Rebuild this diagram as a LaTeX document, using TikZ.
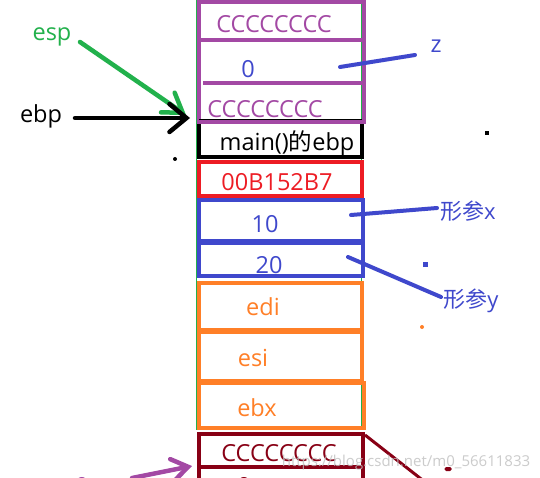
\documentclass[tikz,border=0pt]{standalone}
\usepackage{fontspec}
\setmainfont{Open Sans}
\newfontfamily\cjk{Noto Sans CJK SC}
\usetikzlibrary{arrows.meta}
\definecolor{ppurple}{RGB}{163,73,164}
\definecolor{pblue}{RGB}{63,72,204}
\definecolor{pred}{RGB}{237,28,36}
\definecolor{porange}{RGB}{255,127,39}
\definecolor{pdark}{RGB}{136,0,21}
\definecolor{pgreen}{RGB}{34,177,76}
\begin{document}
\begin{tikzpicture}[x=1pt,y=-1pt,
  cell/.style={line width=4pt},
  lbl/.style={inner sep=0pt, anchor=base, font=\fontsize{23.5}{26}\selectfont},
  cjklbl/.style={inner sep=0pt, anchor=base, font=\fontsize{22}{25}\selectfont},
  pen/.style={line width=4.5pt, line cap=round},
  dotmark/.style={inner sep=0pt, minimum size=4pt, fill}]
\useasboundingbox (0,0) rectangle (540,478);
\clip (0,0) rectangle (540,478);
\fill[white] (0,0) rectangle (540,478);
% green guide lines
\draw[pgreen, line width=1.2pt] (196.5,0) -- (196.5,430);
\draw[pgreen, line width=1.2pt] (361.5,0) -- (361.5,430);
% purple block
\draw[ppurple, cell] (199,2) rectangle (364,122);
\draw[ppurple, cell] (199,40) -- (364,40);
\draw[ppurple, cell] (203,83) -- (364,83);
\draw[ppurple, line width=2pt] (199,1) -- (283,1);
% black box
\draw[black, line width=1pt] (199,120) -- (362,120);
\draw[black, cell] (199,124) -- (199,157) -- (362,157) -- (362,124);
% red box
\draw[pred, cell] (199,162) rectangle (362,196);
% blue boxes
\draw[pblue, cell] (199,200) rectangle (363,241);
\draw[pblue, cell] (199,243) rectangle (363,276);
% orange boxes
\draw[porange, cell] (199,283) rectangle (362,330);
\draw[porange, cell] (199,332) rectangle (362,381);
\draw[porange, cell] (199,383) rectangle (364,428);
% dark red box
\draw[pdark, cell] (199,434) rectangle (363,500);
\draw[pdark, cell] (199,467) -- (363,467);

% cell texts
\node[lbl, text=ppurple] (c1) at (274,33) {CCCCCCCC};
\node[lbl, text=pblue] (zero) at (248,78) {0};
\node[lbl, text=ppurple] (c3) at (265,118) {CCCCCCCC};
\node[lbl, text=black] (mebp) at (287,151) {main(){\cjk 的}ebp};
\node[lbl, text=pred] (ret) at (277,191) {00B152B7};
\node[lbl, text=pblue] (ten) at (265,233) {10};
\node[lbl, text=pblue] (twenty) at (269,273) {20};
\node[lbl, text=porange] (edi) at (263,315) {edi};
\node[lbl, text=porange] (esi) at (253,366) {esi};
\node[lbl, text=porange] (ebx) at (257,416) {ebx};
\node[lbl, text=pdark] (c4) at (279,461) {CCCCCCCC};
\node[lbl, text=pdark] (c5) at (244,494) {0};

% left labels and arrows
\node[lbl, text=pgreen] (esp) at (52,41) {esp};
\node[lbl, text=black] (ebp) at (41,123) {ebp};
\node[lbl, text=ppurple] (amp) at (90,494) {\&a};
\coordinate (esptip) at (186,115);
\coordinate (espstart) at (80,42);
\coordinate (ebptip) at (190,118);
\coordinate (ebpstart) at (75,118);
\coordinate (amptip) at (192,466);
\coordinate (ampstart) at (132,478);
\draw[pgreen, pen, -{Straight Barb[length=18pt,width=24pt,line cap=round]}] (espstart) -- (esptip);
\draw[black, pen, -{Straight Barb[length=17pt,width=28pt,line cap=round]}] (ebpstart) -- (ebptip);
\draw[ppurple, pen, -{Straight Barb[length=16pt,width=22pt,line cap=round]}] (ampstart) -- (amptip);

% right labels and lines
\node[lbl, text=pblue] (z) at (436,53) {z};
\node[cjklbl, text=pblue] (px) at (468,219) {{\cjk 形参}x};
\node[cjklbl, text=pblue] (py) at (471,307) {{\cjk 形参}y};
\coordinate (zend) at (415,55);
\coordinate (zin) at (340,67);
\coordinate (pxend) at (437,208);
\coordinate (pxin) at (351,215);
\coordinate (pyend) at (441,297);
\coordinate (pyin) at (348,257);
\draw[pblue, line width=4pt, line cap=round] (zin) -- (zend);
\draw[pblue, line width=4pt, line cap=round] (pxin) -- (pxend);
\draw[pblue, line width=4pt, line cap=round] (pyin) -- (pyend);
% dark red diagonal
\coordinate (dstart) at (365,435);
\coordinate (dend) at (425,482);
\draw[pdark, line width=3pt] (dstart) -- (dend);

% stray dots
\node[dotmark, black, circle] (d1) at (175,159) {};
\node[dotmark, black] (d2) at (487,133) {};
\node[dotmark, pblue, minimum size=5pt] (d3) at (425,264) {};
\node[dotmark, porange, circle] (d4) at (422,327) {};
\node[inner sep=0pt, fill=pdark, minimum width=7pt, minimum height=4pt, rounded corners=1.5pt] (d5) at (448,469) {};

% watermark
\node[inner sep=0pt, anchor=base, text=black!25, opacity=0.8, font=\fontsize{15}{17}\selectfont] (wm) at (406,466) {https://blog.csdn.net/m0\_56611833};
\end{tikzpicture}
\end{document}
